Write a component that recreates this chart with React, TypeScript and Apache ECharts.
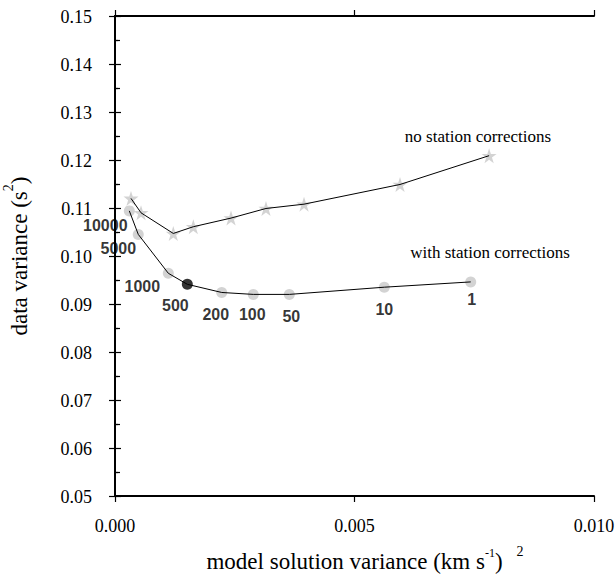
import React, { useEffect, useRef } from "react";
import * as echarts from "echarts";

// lambda (damping) values labelling the "with station corrections" curve
const lambdaLabels = ["10000", "5000", "1000", "500", "200", "100", "50", "10", "1"];
// with station corrections
const withX = [0.000299, 0.000486, 0.001113, 0.00151, 0.002228, 0.002887, 0.003639, 0.005622, 0.007426];
const withY = [0.1094, 0.1045, 0.0964, 0.0941, 0.0924, 0.092, 0.092, 0.0935, 0.0946];
// no station corrections
const noX = [0.000334, 0.000543, 0.001217, 0.001635, 0.002422, 0.003152, 0.003946, 0.00595, 0.00781];
const noY = [0.112, 0.109, 0.1047, 0.1061, 0.1079, 0.1099, 0.1108, 0.1149, 0.1209];
// highlighted (chosen) lambda
const chosenLambda = "500";

// axis ticks
const xTickValues = [0, 0.005, 0.01];
const xTickLabels = ["0.000", "0.005", "0.010"];
const yTickValues = [0.05, 0.06, 0.07, 0.08, 0.09, 0.1, 0.11, 0.12, 0.13, 0.14, 0.15];
const yTickLabels = ["0.05", "0.06", "0.07", "0.08", "0.09", "0.10", "0.11", "0.12", "0.13", "0.14", "0.15"];

const xTicks = { min: 0, max: 0.01, interval: 0.005 };
const yTicks = { min: 0.05, max: 0.15, interval: 0.01 };

// label placement (styling)
const labelOffsets = [[-24, 15], [-20, 14], [-26, 13], [-12, 21], [-6, 22], [-1, 20], [2, 22], [0, 22], [1, 18]];

const SERIF = "Liberation Serif";
const SANS = "Liberation Sans";
const STAR = "path://M50,0 L61.2,34.5 L97.6,34.5 L68.2,55.9 L79.4,90.5 L50,69.1 L20.6,90.5 L31.8,55.9 L2.4,34.5 L38.8,34.5 Z";
const GRAY = "#c8c8c8";

export default function App() {
  const ref = useRef<HTMLDivElement>(null);
  useEffect(() => {
    if (!ref.current) return;
    const chart = echarts.init(ref.current, undefined, { renderer: "svg" });
    const axisLine = { show: true, lineStyle: { color: "#000", width: 2 } };
    const tick = { show: true, inside: false, length: 6, lineStyle: { color: "#000", width: 1.2 } };
    const minorL = { show: true, splitNumber: 2, length: -3, lineStyle: { color: "#000", width: 1.2 } };
    const minorR = { show: true, splitNumber: 2, length: 5, lineStyle: { color: "#000", width: 1.2 } };
    const withData = withX.map((x, i) => ({
      value: [x, withY[i]],
      name: lambdaLabels[i],
      itemStyle: { color: lambdaLabels[i] === chosenLambda ? "#000" : GRAY },
      label: { offset: labelOffsets[i] },
    }));
    const annotations: any[] = [
      {
        type: "text",
        x: 478,
        y: 136,
        style: {
          text: "no station corrections",
          fontFamily: SERIF,
          fontSize: 17,
          fill: "#000",
          align: "center",
          verticalAlign: "middle",
        },
      },
      {
        type: "text",
        x: 490,
        y: 252,
        style: {
          text: "with station corrections",
          fontFamily: SERIF,
          fontSize: 17,
          fill: "#000",
          align: "center",
          verticalAlign: "middle",
        },
      },
      {
        type: "text",
        x: 520,
        y: 551,
        style: {
          text: "2",
          fontFamily: SERIF,
          fontSize: 14,
          fill: "#000",
          align: "center",
          verticalAlign: "middle",
        },
      },
    ];
    const option: any = {
      animation: false,
      textStyle: { fontFamily: SERIF },
      grid: { left: 115, right: 21, top: 16, bottom: 78, outerBoundsMode: "none", containLabel: false },
      xAxis: [
        {
          type: "value",
          position: "bottom",
          ...xTicks,
          axisLine,
          axisTick: tick,
          splitLine: { show: false },
          axisLabel: { show: false },
          name: "{a|model solution variance (km s}{s|-1}{a|)}",
          nameLocation: "middle",
          nameGap: 51,
          nameTextStyle: {
            rich: {
              a: { fontFamily: SERIF, fontSize: 23, color: "#000", lineHeight: 26, verticalAlign: "bottom" },
              s: { fontFamily: SERIF, fontSize: 12, color: "#000", lineHeight: 14, verticalAlign: "top" },
            },
          },
        },
        {
          type: "value",
          position: "top",
          ...xTicks,
          axisLine,
          axisTick: tick,
          axisLabel: { show: false },
          splitLine: { show: false },
        },
      ],
      yAxis: [
        {
          type: "value",
          position: "left",
          ...yTicks,
          axisLine,
          axisTick: tick,
          minorTick: minorL,
          splitLine: { show: false },
          axisLabel: { show: false },
          name: "{a|data variance (s}{s|2}{a|)}",
          nameLocation: "middle",
          nameGap: 84,
          nameRotate: 90,
          nameTextStyle: {
            rich: {
              a: { fontFamily: SERIF, fontSize: 23, color: "#000", lineHeight: 30, verticalAlign: "bottom" },
              s: { fontFamily: SERIF, fontSize: 14, color: "#000", lineHeight: 16, verticalAlign: "top" },
            },
          },
        },
        {
          type: "value",
          position: "right",
          ...yTicks,
          axisLine,
          axisTick: tick,
          minorTick: minorR,
          axisLabel: { show: false },
          splitLine: { show: false },
        },
      ],
      series: [
        {
          type: "scatter",
          name: "no station corrections",
          data: noX.map((x, i) => [x, noY[i]]),
          symbol: STAR,
          symbolSize: 15,
          itemStyle: { color: GRAY },
          z: 2,
        },
        {
          type: "scatter",
          name: "with station corrections",
          data: withData,
          symbol: "circle",
          symbolSize: 11,
          z: 2,
          label: {
            show: true,
            position: "inside",
            formatter: (p: any) => p.name,
            fontFamily: SANS,
            fontWeight: "bold",
            fontSize: 16,
            color: "#000",
            textBorderWidth: 0,
            textBorderColor: "transparent",
          },
        },
        {
          type: "line",
          data: noX.map((x, i) => [x, noY[i]]),
          symbol: "none",
          lineStyle: { color: "#000", width: 1 },
          z: 3,
        },
        {
          type: "line",
          data: withX.map((x, i) => [x, withY[i]]),
          symbol: "none",
          lineStyle: { color: "#000", width: 1 },
          z: 3,
        },
      ],
      graphic: annotations,
    };
    chart.setOption(option);

    // tick labels placed through the axes' own scales
    const tickTexts: any[] = [];
    xTickValues.forEach((v, i) => {
      const px = chart.convertToPixel({ xAxisIndex: 0 }, v) as number;
      const py = chart.convertToPixel({ yAxisIndex: 0 }, yTicks.min) as number;
      tickTexts.push({
        type: "text",
        x: px,
        y: py + 30,
        style: {
          text: xTickLabels[i],
          fontFamily: SERIF,
          fontSize: 18,
          fill: "#000",
          align: "center",
          verticalAlign: "middle",
        },
      });
    });
    yTickValues.forEach((v, i) => {
      const px = chart.convertToPixel({ xAxisIndex: 0 }, xTicks.min) as number;
      const py = chart.convertToPixel({ yAxisIndex: 0 }, v) as number;
      tickTexts.push({
        type: "text",
        x: px - 23,
        y: py + 1,
        style: {
          text: yTickLabels[i],
          fontFamily: SERIF,
          fontSize: 18,
          fill: "#000",
          align: "right",
          verticalAlign: "middle",
        },
      });
    });
    chart.setOption({ graphic: [...annotations, ...tickTexts] });
    return () => chart.dispose();
  }, []);
  return <div ref={ref} style={{ width: 615, height: 574, position: "absolute", left: 0, top: 0 }} />;
}
